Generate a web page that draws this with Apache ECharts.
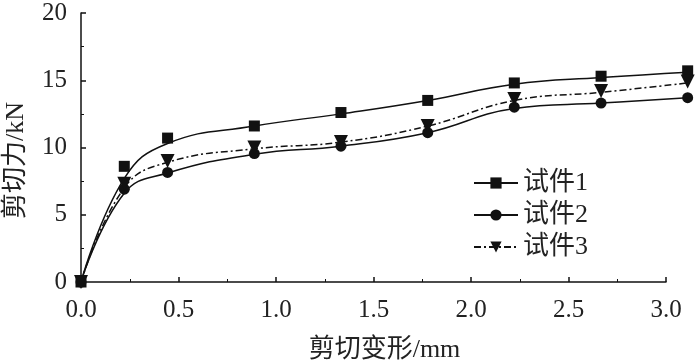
<!DOCTYPE html>
<html>
<head>
<meta charset="utf-8">
<script src="https://cdn.jsdelivr.net/npm/echarts@6/dist/echarts.min.js"></script>
<style>
  html, body { margin: 0; padding: 0; background: #fff; }
  #chart { width: 700px; height: 364px; }
</style>
</head>
<body>
<div id="chart"></div>
<script>
// 位移 (mm)
var deform = [0, 0.222, 0.444, 0.889, 1.333, 1.778, 2.222, 2.667, 3.111];
// 试验点
var spec1 = [0, 8.6, 10.7, 11.6, 12.6, 13.5, 14.8, 15.3, 15.7];
var spec2 = [0, 6.9, 8.15, 9.55, 10.1, 11.1, 13.0, 13.3, 13.7];
var spec3 = [0, 7.3, 9.0, 10.0, 10.4, 11.6, 13.6, 14.2, 14.9];
// 拟合曲线
var fit1 = [0, 7.7, 10.3, 11.6, 12.5, 13.5, 14.7, 15.2, 15.6];
var fit2 = [0, 6.6, 8.1, 9.5, 10.1, 11.1, 12.9, 13.3, 13.7];
var fit3 = [0, 7.0, 8.9, 9.9, 10.4, 11.6, 13.5, 14.1, 14.8];
var names = ['试件1', '试件2', '试件3'];

function pairs(ys) {
    return deform.map(function (x, i) { return [x, ys[i]]; });
}

var font = 'Liberation Serif, Noto Sans CJK SC, serif';
var symbols = ['rect', 'circle', 'triangle'];
var sizes = [11, 11, 14];
var rotates = [0, 0, 180];
var dashes = ['solid', 'solid', [7, 3, 2, 3]];
var fits = [fit1, fit2, fit3];
var specs = [spec1, spec2, spec3];

// grid 0 : 可见坐标轴 (0~3.0)，grid 1 : 数据绘制区 (延伸到 3.12，比例相同)
var series = [];
for (var i = 0; i < 3; i++) {
    series.push({
        name: names[i],
        type: 'line',
        xAxisIndex: 1,
        yAxisIndex: 1,
        smooth: 0.45,
        showSymbol: false,
        symbol: symbols[i],
        symbolSize: sizes[i],
        symbolRotate: rotates[i],
        itemStyle: { color: '#111', opacity: 1 },
        lineStyle: { color: '#111', width: 1.5, type: dashes[i] },
        data: pairs(fits[i])
    });
}
for (var j = 0; j < 3; j++) {
    series.push({
        name: names[j],
        type: 'scatter',
        xAxisIndex: 1,
        yAxisIndex: 1,
        symbol: symbols[j],
        symbolSize: sizes[j],
        symbolRotate: rotates[j],
        clip: false,
        z: 5,
        itemStyle: { color: '#111', opacity: 1 },
        data: pairs(specs[j])
    });
}

var chart = echarts.init(document.getElementById('chart'));
chart.setOption({
    animation: false,
    grid: [
        { left: 81, right: 34, top: 13, bottom: 82, containLabel: false, outerBoundsMode: 'none' },
        { left: 81, right: 10, top: 13, bottom: 82, containLabel: false, outerBoundsMode: 'none' }
    ],
    legend: {
        data: names,
        orient: 'vertical',
        left: 468,
        top: 165,
        itemWidth: 44,
        itemHeight: 14,
        itemGap: 6,
        textStyle: { fontFamily: font, fontSize: 26, color: '#222', lineHeight: 25 }
    },
    xAxis: [{
        type: 'value',
        gridIndex: 0,
        min: 0,
        max: 3.0,
        interval: 0.5,
        name: '剪切变形/mm',
        nameLocation: 'middle',
        nameGap: 55,
        nameTextStyle: { fontFamily: font, fontSize: 26, color: '#222', padding: [0, 0, 0, 22] },
        axisLine: { lineStyle: { color: '#111', width: 1.5 } },
        axisTick: { inside: true, length: 5, lineStyle: { color: '#111', width: 1.5 } },
        minorTick: { show: true, splitNumber: 2, length: 3, lineStyle: { color: '#111' } },
        axisLabel: {
            fontFamily: font, fontSize: 25, color: '#222', margin: 16,
            formatter: function (v) { return v.toFixed(1); }
        },
        splitLine: { show: false }
    }, {
        type: 'value',
        gridIndex: 1,
        min: 0,
        max: 3.123,
        show: false
    }],
    yAxis: [{
        type: 'value',
        gridIndex: 0,
        min: 0,
        max: 20,
        interval: 5,
        name: '剪切力/kN',
        nameLocation: 'middle',
        nameGap: 52,
        nameTextStyle: { fontFamily: font, fontSize: 26, color: '#222', padding: [0, 26, 0, 0] },
        axisLine: { show: true, lineStyle: { color: '#111', width: 1.5 } },
        axisTick: { show: true, inside: true, length: 5, lineStyle: { color: '#111', width: 1.5 } },
        minorTick: { show: true, splitNumber: 2, length: 3, lineStyle: { color: '#111' } },
        axisLabel: { fontFamily: font, fontSize: 25, color: '#222', margin: 14 },
        splitLine: { show: false }
    }, {
        type: 'value',
        gridIndex: 1,
        min: 0,
        max: 20,
        show: false
    }],
    series: series
});
</script>
</body>
</html>
